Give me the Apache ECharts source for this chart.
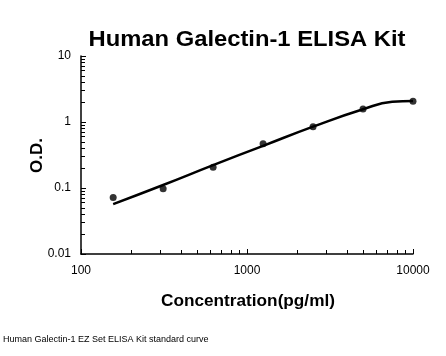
<!DOCTYPE html>
<html><head><meta charset="utf-8">
<script src="https://cdn.jsdelivr.net/npm/echarts@6/dist/echarts.min.js"></script>
<style>html,body{margin:0;padding:0;background:#fff}#c{width:446px;height:356px}</style>
</head><body><div id="c"></div>
<script>
var concentrations = [156.25, 312.5, 625, 1250, 2500, 5000, 10000];
var odValues = [0.072, 0.097, 0.206, 0.469, 0.849, 1.57, 2.06];
var curveX = [156.25, 312.5, 625, 1250, 2500, 5000, 7500, 10000];
var curveY = [0.057, 0.111, 0.222, 0.435, 0.85, 1.56, 2.02, 2.08];
var xTicks = [100, 1000, 10000];
var yTicks = [0.01, 0.1, 1, 10];

var chart = echarts.init(document.getElementById('c'));
var F = 'Liberation Sans, Arial, sans-serif';
chart.setOption({
  animation: false,
  backgroundColor: '#fff',
  grid: { left: 81, right: 33, top: 56, bottom: 102 },
  xAxis: {
    type: 'log', logBase: 10, min: 100, max: 10000,
    axisLine: { lineStyle: { color: '#000', width: 1.5 } },
    axisTick: { inside: true, length: 5, lineStyle: { color: '#000' } },
    minorTick: { show: true, splitNumber: 9, length: 4, lineStyle: { color: '#000' } },
    axisLabel: { margin: 11, fontFamily: F, fontSize: 12, color: '#000',
      formatter: function (v) { return xTicks.indexOf(v) >= 0 ? String(v) : ''; } },
    splitLine: { show: false }
  },
  yAxis: {
    type: 'log', logBase: 10, min: 0.01, max: 10,
    axisLine: { show: true, lineStyle: { color: '#000', width: 1.5 } },
    axisTick: { show: true, inside: true, length: 5, lineStyle: { color: '#000' } },
    minorTick: { show: true, splitNumber: 9, length: 4, lineStyle: { color: '#000' } },
    axisLabel: { margin: 10, fontFamily: F, fontSize: 12, color: '#000',
      formatter: function (v) { var r = yTicks.find(function (t) { return Math.abs(t - v) / t < 1e-6; }); return r !== undefined ? String(r) : ''; } },
    splitLine: { show: false }
  },
  graphic: [{
    type: 'text', x: 247, y: 40, scaleX: 1.08,
    style: { text: 'Human Galectin-1 ELISA Kit', font: 'bold 22px Liberation Sans, Arial, sans-serif', fill: '#000', align: 'center', verticalAlign: 'middle' }
  }, {
    type: 'text', x: 248, y: 302, scaleX: 1.075,
    style: { text: 'Concentration(pg/ml)', font: 'bold 16px Liberation Sans, Arial, sans-serif', fill: '#000', align: 'center', verticalAlign: 'middle' }
  }, {
    type: 'text', x: 37.5, y: 155.5, rotation: Math.PI / 2,
    style: { text: 'O.D.', font: 'bold 17px Liberation Sans, Arial, sans-serif', fill: '#000', align: 'center', verticalAlign: 'middle' }
  }, {
    type: 'text', x: 3, y: 340,
    style: { text: 'Human Galectin-1 EZ Set ELISA Kit standard curve', font: '9px Liberation Sans, Arial, sans-serif', fill: '#000', verticalAlign: 'middle' }
  }],
  series: [{
    type: 'line', smooth: 0.5, showSymbol: false,
    data: curveX.map(function (x, i) { return [x, curveY[i]]; }),
    lineStyle: { color: '#000', width: 2.5 }, z: 2
  }, {
    type: 'scatter', symbol: 'circle', symbolSize: 7,
    data: concentrations.map(function (x, i) { return [x, odValues[i]]; }),
    itemStyle: { color: '#000' }, z: 3
  }]
});
</script></body></html>
